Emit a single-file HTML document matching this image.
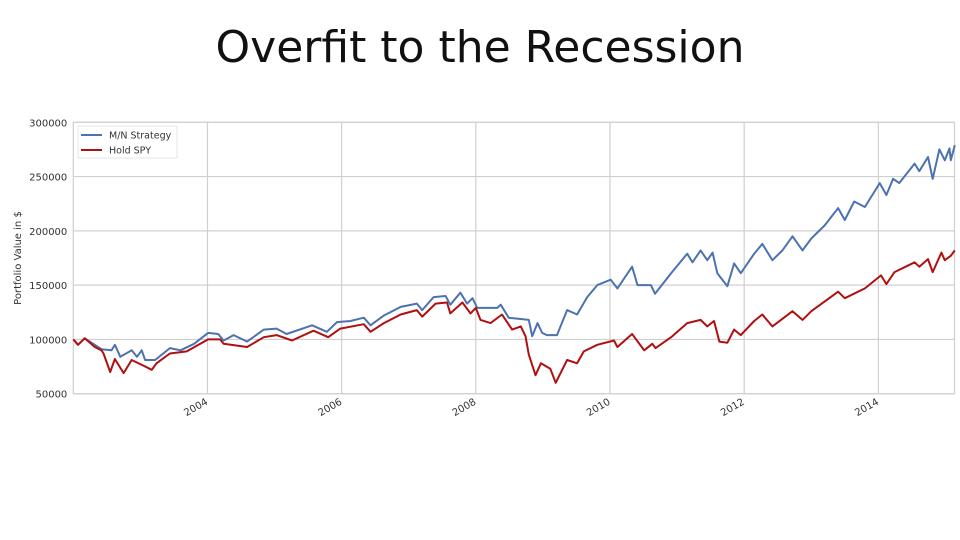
<!DOCTYPE html>
<html><head><meta charset="utf-8"><style>
body{margin:0;background:#fff;width:960px;height:540px;overflow:hidden;font-family:"Liberation Sans",sans-serif}
#title{position:absolute;left:0;top:22px;width:960px;text-align:center;font-size:44px;color:#111;font-family:"DejaVu Sans","Liberation Sans",sans-serif}
</style></head><body>
<div id="title">Overfit to the Recession</div>
<svg id="chart" width="960" height="540" style="position:absolute;left:0;top:0"></svg>
<script>
const yTicks=[50000,100000,150000,200000,250000,300000];
const xTicks=[2004,2006,2008,2010,2012,2014];
const seriesNames=["M/N Strategy","Hold SPY"];
const mnYears=[2002.0,2002.07,2002.17,2002.32,2002.42,2002.57,2002.62,2002.7,2002.87,2002.95,2003.02,2003.07,2003.22,2003.44,2003.6,2003.8,2004.01,2004.16,2004.24,2004.39,2004.59,2004.84,2005.03,2005.18,2005.56,2005.78,2005.93,2006.13,2006.33,2006.43,2006.63,2006.88,2007.12,2007.2,2007.37,2007.55,2007.62,2007.77,2007.87,2007.95,2008.02,2008.32,2008.37,2008.49,2008.79,2008.84,2008.92,2008.99,2009.06,2009.21,2009.36,2009.51,2009.66,2009.81,2010.01,2010.11,2010.33,2010.41,2010.61,2010.67,2010.91,2011.15,2011.23,2011.35,2011.45,2011.53,2011.6,2011.75,2011.85,2011.95,2012.15,2012.27,2012.42,2012.57,2012.72,2012.87,2013.0,2013.2,2013.4,2013.5,2013.64,2013.8,2014.02,2014.12,2014.22,2014.31,2014.54,2014.61,2014.74,2014.81,2014.91,2014.99,2015.06,2015.08,2015.14];
const mnValues=[100000,95000,101000,95000,91000,90000,95000,84000,90000,84000,90000,81000,81000,92000,90000,96000,106000,105000,99000,104000,98000,109000,110000,105000,113000,107000,116000,117000,120000,113000,122000,130000,133000,127000,139000,140000,132000,143000,133000,138000,129000,129000,132000,120000,118000,103000,115000,106000,104000,104000,127000,123000,139000,150000,155000,147000,167000,150000,150000,142000,161000,179000,171000,182000,173000,180000,161000,149000,170000,161000,179000,188000,173000,182000,195000,182000,193000,205000,221000,210000,227000,222000,244000,233000,248000,244000,262000,255000,268000,248000,275000,265000,276000,265000,279000];
const spyYears=[2002.0,2002.07,2002.17,2002.32,2002.42,2002.45,2002.55,2002.62,2002.75,2002.87,2003.04,2003.17,2003.24,2003.44,2003.69,2004.01,2004.19,2004.24,2004.59,2004.84,2005.03,2005.26,2005.58,2005.8,2005.98,2006.33,2006.43,2006.63,2006.88,2007.12,2007.2,2007.4,2007.57,2007.62,2007.8,2007.92,2008.0,2008.07,2008.22,2008.39,2008.54,2008.67,2008.74,2008.79,2008.89,2008.97,2009.11,2009.19,2009.36,2009.51,2009.61,2009.81,2010.06,2010.11,2010.33,2010.51,2010.63,2010.68,2010.91,2011.15,2011.35,2011.45,2011.55,2011.63,2011.75,2011.85,2011.95,2012.15,2012.27,2012.42,2012.72,2012.87,2013.0,2013.4,2013.5,2013.8,2014.04,2014.12,2014.24,2014.54,2014.61,2014.74,2014.81,2014.94,2014.99,2015.08,2015.14];
const spyValues=[100000,95000,101000,93000,90000,87000,70000,82000,69000,81000,76000,72000,78000,87000,89000,100000,100000,96000,93000,102000,104000,99000,108000,102000,110000,114000,107000,115000,123000,127000,121000,133000,134000,124000,134000,124000,129000,118000,115000,123000,109000,112000,103000,86000,67000,78000,73000,60000,81000,78000,89000,95000,99000,93000,105000,90000,96000,92000,102000,115000,118000,112000,117000,98000,97000,109000,104000,117000,123000,112000,126000,118000,126000,144000,138000,147000,159000,151000,162000,171000,167000,174000,162000,180000,173000,177000,182000];

const NS='http://www.w3.org/2000/svg';
const svg=document.getElementById('chart');
const L=73.3,R=954.5,T=122.3,B=393.7;
const x0=2002.0,x1=2015.135;
const sx=v=>L+(v-x0)/(x1-x0)*(R-L);
const sy=v=>B-(v-50000)/250000*(B-T);
function mk(tag,attrs,parent){const e=document.createElementNS(NS,tag);for(const k in attrs)e.setAttribute(k,attrs[k]);(parent||svg).appendChild(e);return e;}

const grid=mk('g',{});


yTicks.forEach(t=>{
  const ln=mk('line',{x1:L,x2:R,y1:sy(t),y2:sy(t),stroke:'#d0d0d0','stroke-width':1.2},grid);
  
  
  const tx=mk('text',{x:L-6,y:sy(t)+4,'text-anchor':'end','font-size':10,fill:'#333','font-family':'DejaVu Sans, Liberation Sans, sans-serif'});
  tx.textContent=t;
  
  
});
xTicks.forEach(t=>{
  const ln=mk('line',{x1:sx(t),x2:sx(t),y1:T,y2:B,stroke:'#d0d0d0','stroke-width':1.2},grid);
  
  
  const tx=mk('text',{x:sx(t)+1,y:B+10,'text-anchor':'end','font-size':10,fill:'#333','font-family':'DejaVu Sans, Liberation Sans, sans-serif',transform:`rotate(-30 ${sx(t)+1} ${B+10})`});
  tx.textContent=t;
  
  
});
const frame=mk('rect',{x:L,y:T,width:R-L,height:B-T,fill:'none',stroke:'#d0d0d0','stroke-width':1.2});



function drawLine(xs,ys,color,name){
  const d=xs.map((v,i)=>(i?'L':'M')+sx(v).toFixed(1)+','+sy(ys[i]).toFixed(1)).join('');
  const p=mk('path',{d:d,fill:'none',stroke:color,'stroke-width':2,'stroke-linejoin':'round'});
  
  
}
drawLine(mnYears,mnValues,'#4c72b0','mn-strategy-line');
drawLine(spyYears,spyValues,'#b01010','hold-spy-line');

const yl=mk('text',{x:21,y:258,'text-anchor':'middle','font-size':10,fill:'#333','font-family':'DejaVu Sans, Liberation Sans, sans-serif',transform:'rotate(-90 21 258)'});
yl.textContent='Portfolio Value in $';



const lg=mk('g',{});


mk('rect',{x:78,y:126,width:99,height:32,fill:'#fff',stroke:'#e6e6e6'},lg);
const lc=['#4c72b0','#b01010'];
seriesNames.forEach((n,i)=>{
  const y=135+i*15;
  const ln=mk('line',{x1:81,x2:102,y1:y,y2:y,stroke:lc[i],'stroke-width':2},lg);
  
  
  const tx=mk('text',{x:109,y:y+3.5,'font-size':9.5,fill:'#333','font-family':'DejaVu Sans, Liberation Sans, sans-serif'},lg);
  tx.textContent=n;
  
  
});
</script>
</body></html>
